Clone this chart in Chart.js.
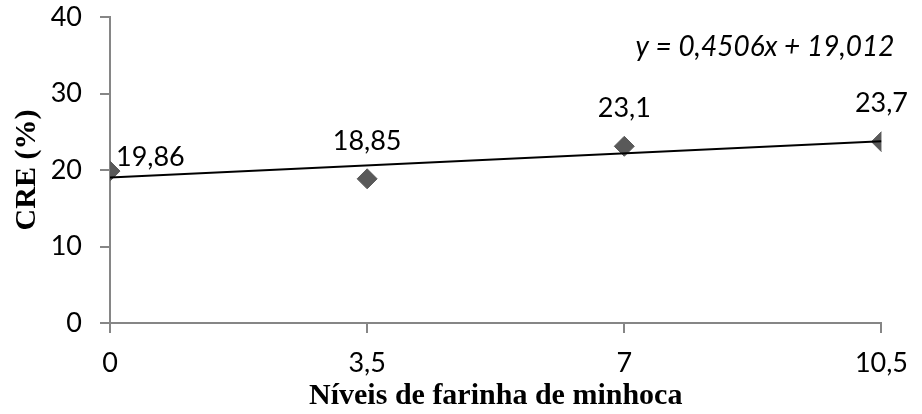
<!DOCTYPE html>
<html lang="pt">
<head>
    <meta charset="UTF-8">
    <title>CRE (%) x Níveis de farinha de minhoca</title>
    <script src="https://cdn.jsdelivr.net/npm/chart.js@4.4.1/dist/chart.umd.min.js"></script>
    <style>
        body { margin: 0; background: #ffffff; }
        .chart-box { position: relative; width: 922px; height: 414px; }
    </style>
</head>
<body>
    <div class="chart-box">
        <canvas id="creChart"></canvas>
    </div>

    <script>
        // --- Data ---
        const levels = [0, 3.5, 7, 10.5];
        const creValues = [19.86, 18.85, 23.1, 23.7];
        const pointLabels = ['19,86', '18,85', '23,1', '23,7'];
        const xTicks = [0, 3.5, 7, 10.5];
        const xTickLabels = ['0', '3,5', '7', '10,5'];
        const trendX = [0, 10.5];
        const trendY = [19.012, 23.743];
        const equationText = 'y = 0,4506x + 19,012';

        const axisGray = '#868686';
        const sansFam = 'Lato, "Open Sans", sans-serif';
        const tickFont = { family: sansFam, size: 27 };
        const titleFont = { family: '"Liberation Serif", "Times New Roman", serif', size: 30, weight: 'bold' };

        // draws the value labels and the trendline equation
        const labelsPlugin = {
            id: 'pointLabels',
            afterDatasetsDraw(chart) {
                const { ctx, scales: { x, y } } = chart;
                ctx.save();
                ctx.font = '27px ' + sansFam;
                ctx.fillStyle = '#000';
                ctx.textBaseline = 'middle';
                levels.forEach((lv, i) => {
                    const px = x.getPixelForValue(lv);
                    const py = y.getPixelForValue(creValues[i]);
                    if (i === 0) {
                        ctx.textAlign = 'left';
                        ctx.fillText(pointLabels[i], px + 6, py - 14);
                    } else {
                        ctx.textAlign = 'center';
                        ctx.fillText(pointLabels[i], px, py - 38);
                    }
                });
                ctx.font = 'italic 28px ' + sansFam;
                ctx.textAlign = 'center';
                ctx.fillText(equationText, 765, 47);
                ctx.restore();
            }
        };

        const ctx = document.getElementById('creChart').getContext('2d');
        new Chart(ctx, {
            type: 'scatter',
            data: {
                datasets: [
                    {
                        label: 'CRE',
                        data: levels.map((lv, i) => ({ x: lv, y: creValues[i] })),
                        pointStyle: 'rectRot',
                        pointRadius: 10,
                        pointBackgroundColor: '#595959',
                        pointBorderColor: '#595959',
                        order: 2
                    },
                    {
                        label: 'Linear',
                        data: trendX.map((tx, i) => ({ x: tx, y: trendY[i] })),
                        showLine: true,
                        borderColor: '#000',
                        borderWidth: 2,
                        pointRadius: 0,
                        order: 1
                    }
                ]
            },
            options: {
                responsive: true,
                maintainAspectRatio: false,
                animation: false,
                layout: { padding: { left: 0, right: 39, top: 17, bottom: 0 } },
                plugins: {
                    legend: { display: false },
                    tooltip: { enabled: false }
                },
                scales: {
                    x: {
                        type: 'linear',
                        min: 0,
                        max: 10.5,
                        afterBuildTicks(scale) {
                            scale.ticks = xTicks.map(v => ({ value: v }));
                        },
                        afterFit(scale) { scale.height = 91; },
                        border: { color: axisGray, width: 2 },
                        grid: { drawOnChartArea: false, color: axisGray, tickLength: 10, lineWidth: 2 },
                        ticks: {
                            font: tickFont,
                            color: '#000',
                            padding: 14,
                            maxRotation: 0,
                            callback: (v) => xTickLabels[xTicks.indexOf(v)]
                        },
                        title: {
                            display: true,
                            text: 'Níveis de farinha de minhoca',
                            font: titleFont,
                            color: '#000',
                            padding: { top: 0, bottom: 0 }
                        }
                    },
                    y: {
                        min: 0,
                        max: 40,
                        afterFit(scale) {
                            scale.width = 110;
                            scale.paddingTop = 0;
                            scale.paddingBottom = 0;
                        },
                        border: { color: axisGray, width: 2 },
                        grid: { drawOnChartArea: false, color: axisGray, tickLength: 10, lineWidth: 2 },
                        ticks: {
                            stepSize: 10,
                            font: tickFont,
                            color: '#000',
                            padding: 18
                        },
                        title: {
                            display: true,
                            text: 'CRE (%)',
                            font: titleFont,
                            color: '#000',
                            padding: { top: 9, bottom: 0 }
                        }
                    }
                }
            },
            plugins: [labelsPlugin]
        });
    </script>
</body>
</html>
